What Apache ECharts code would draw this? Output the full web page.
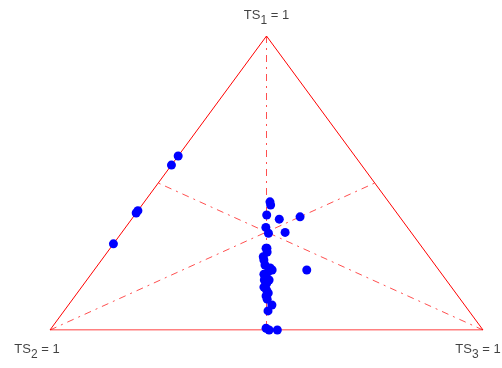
<!DOCTYPE html>
<html>
<head>
<meta charset="utf-8">
<script src="https://cdn.jsdelivr.net/npm/echarts@6/dist/echarts.min.js"></script>
<style>
  html, body { margin: 0; padding: 0; background: #fff; }
  #chart { width: 502px; height: 368px; }
</style>
</head>
<body>
<div id="chart"></div>
<script>
// ternary compositions (TS1, TS2, TS3)
var ts1 = [0.592, 0.561, 0.406, 0.398, 0.293,
           0.436, 0.425, 0.391, 0.377, 0.385, 0.349, 0.329, 0.332,
           0.278, 0.278, 0.265, 0.249, 0.238, 0.221, 0.211, 0.198, 0.204,
           0.190, 0.181, 0.170, 0.170, 0.159, 0.146, 0.136, 0.126, 0.116,
           0.105, 0.204, 0.085, 0.065, 0.006, 0.0, 0.0];
var ts2 = [0.408, 0.439, 0.594, 0.602, 0.707,
           0.274, 0.278, 0.304, 0.282, 0.230, 0.327, 0.331, 0.291,
           0.362, 0.360, 0.366, 0.383, 0.387, 0.393, 0.386, 0.397, 0.385,
           0.411, 0.413, 0.420, 0.409, 0.420, 0.433, 0.432, 0.433, 0.443,
           0.446, 0.305, 0.445, 0.464, 0.498, 0.494, 0.475];
var ts3 = ts1.map(function (a, i) { return Math.max(0, 1 - a - ts2[i]); });

// triangle corners and median end points, in (TS1, TS2, TS3)
var corners = [[1, 0, 0], [0, 1, 0], [0, 0, 1], [1, 0, 0]];
var medians = [
    [[1, 0, 0], [0, 0.5, 0.5]],
    [[0, 1, 0], [0.5, 0, 0.5]],
    [[0, 0, 1], [0.5, 0.5, 0]]
];
var cornerLabels = ['{a|TS}{s|1}{a| = 1}', '{a|TS}{s|2}{a| = 1}', '{a|TS}{s|3}{a| = 1}'];

function toXY(c) {
    var s = c[0] + c[1] + c[2];
    return [(c[2] + c[0] / 2) / s, c[0] / s];
}

var points = ts1.map(function (a, i) { return toXY([a, ts2[i], ts3[i]]); });

var chart = echarts.init(document.getElementById('chart'));

var rich = {
    a: { fontFamily: 'Liberation Sans', fontSize: 13, color: '#111', lineHeight: 15, verticalAlign: 'top' },
    s: { fontFamily: 'Liberation Sans', fontSize: 12, color: '#111', lineHeight: 15, verticalAlign: 'top', padding: [6, 0, 0, 0] }
};

var series = [{
    type: 'line',
    data: corners.map(toXY),
    symbol: 'none',
    silent: true,
    lineStyle: { color: '#ff0000', width: 1 },
    z: 2
}];

medians.forEach(function (m) {
    series.push({
        type: 'line',
        data: m.map(toXY),
        symbol: 'none',
        silent: true,
        lineStyle: { color: '#ff3030', width: 1, type: [7, 5, 2, 5], opacity: 0.85 },
        z: 1
    });
});

series.push({
    type: 'scatter',
    data: points,
    symbol: 'circle',
    symbolSize: 9,
    clip: false,
    itemStyle: { color: '#0000ff', opacity: 1 },
    z: 5
});

series.push({
    type: 'scatter',
    symbolSize: 0,
    silent: true,
    clip: false,
    data: [
        { value: toXY(corners[0]), label: { show: true, position: 'top', distance: 12, offset: [0, 0], formatter: cornerLabels[0], rich: rich } },
        { value: toXY(corners[1]), label: { show: true, position: 'bottom', distance: 13, offset: [-13, 0], formatter: cornerLabels[1], rich: rich } },
        { value: toXY(corners[2]), label: { show: true, position: 'bottom', distance: 13, offset: [-5, 0], formatter: cornerLabels[2], rich: rich } }
    ]
});

var option = {
    backgroundColor: '#ffffff',
    animation: false,
    grid: { left: 50, right: 19, top: 36, bottom: 38 },
    xAxis: { type: 'value', min: 0, max: 1, show: false },
    yAxis: { type: 'value', min: 0, max: 1, show: false },
    series: series
};

chart.setOption(option);
window.addEventListener('resize', function () {
    chart.resize();
});
</script>
</body>
</html>
